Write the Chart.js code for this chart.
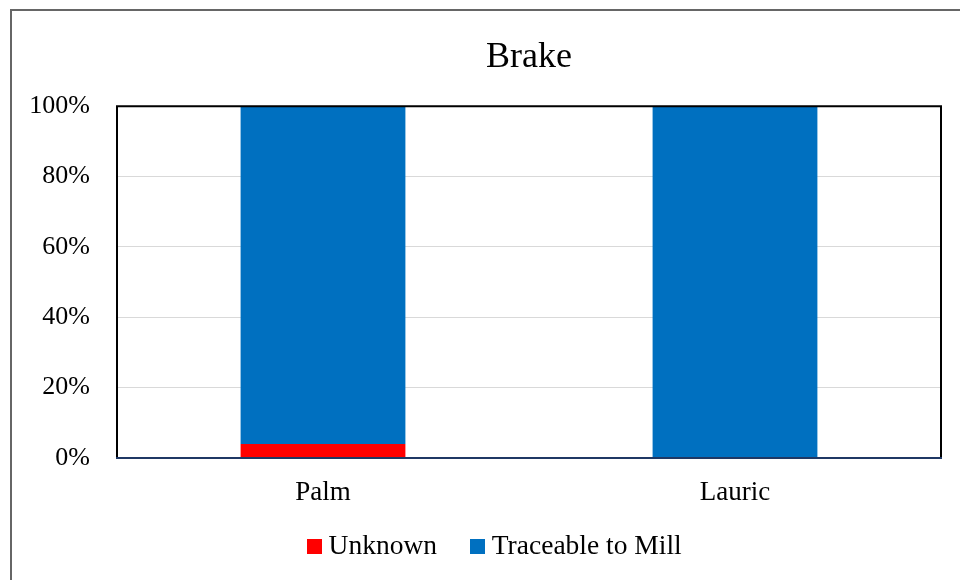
<!DOCTYPE html>
<html>
<head>
<meta charset="utf-8">
<title>Brake</title>
<script src="https://cdn.jsdelivr.net/npm/chart.js@4.4.1/dist/chart.umd.min.js"></script>
<style>
  html, body { margin: 0; padding: 0; background: #fff; }
  #wrap { position: relative; width: 960px; height: 580px; overflow: hidden; }
  #frame {
    position: absolute; left: 10px; top: 9px; width: 1200px; height: 900px;
    border: 2px solid #666; box-sizing: border-box;
  }
  #chart { position: absolute; left: 0; top: 0; }
</style>
</head>
<body>
<div id="wrap">
  <div id="frame"></div>
  <canvas id="chart" width="960" height="580"></canvas>
</div>
<script>
// Datos del gráfico
const categories = ['Palm', 'Lauric'];
const unknownValues = [4, 0];
const traceableValues = [96, 100];
const seriesNames = ['Unknown', 'Traceable to Mill'];
const seriesColors = ['#ff0000', '#0070c0'];
const yTicks = [0, 20, 40, 60, 80, 100];

const serif = '"Liberation Serif", "Times New Roman", serif';

// Cuadradito de color para la leyenda (deja el texto más pegado al cuadro)
function swatch(color) {
  const c = document.createElement('canvas');
  c.width = 15;
  c.height = 15;
  const g = c.getContext('2d');
  g.fillStyle = color;
  g.fillRect(0, 0, 15, 15);
  return c;
}
const swatches = seriesColors.map(swatch);

// Borde del área de trazado (negro arriba/lados, azul oscuro abajo)
const plotBorder = {
  id: 'plotBorder',
  afterDatasetsDraw(chart) {
    const { ctx, chartArea: a } = chart;
    ctx.save();
    ctx.strokeStyle = '#000';
    ctx.lineWidth = 2;
    ctx.beginPath();
    ctx.moveTo(a.left, a.bottom);
    ctx.lineTo(a.left, a.top);
    ctx.lineTo(a.right, a.top);
    ctx.lineTo(a.right, a.bottom);
    ctx.stroke();
    ctx.strokeStyle = '#1f3864';
    ctx.lineWidth = 2;
    ctx.beginPath();
    ctx.moveTo(a.left - 1, a.bottom);
    ctx.lineTo(a.right + 1, a.bottom);
    ctx.stroke();
    ctx.restore();
  }
};

// Mover la leyenda a su sitio
const legendPlace = {
  id: 'legendPlace',
  afterLayout(chart) {
    const lg = chart.legend;
    lg.left = 100;
    lg.right = 895.5;
    lg.top = 493;
    lg.bottom = 493 + lg.height;
  }
};

new Chart(document.getElementById('chart').getContext('2d'), {
  type: 'bar',
  data: {
    labels: categories,
    datasets: [{
      label: seriesNames[0],
      data: unknownValues,
      backgroundColor: seriesColors[0],
      borderWidth: 0
    }, {
      label: seriesNames[1],
      data: traceableValues,
      backgroundColor: seriesColors[1],
      borderWidth: 0
    }]
  },
  options: {
    responsive: false,
    devicePixelRatio: 1,
    animation: false,
    layout: { padding: { left: 0, right: 19, top: 0, bottom: 0 } },
    datasets: {
      bar: { barPercentage: 0.4, categoryPercentage: 1 }
    },
    plugins: {
      title: {
        display: true,
        text: 'Brake',
        fullSize: false,
        color: '#000',
        font: { family: serif, size: 36, weight: 'normal', lineHeight: 1.2 },
        padding: { top: 36, bottom: 27 }
      },
      legend: {
        position: 'bottom',
        maxHeight: 69,
        labels: {
          color: '#000',
          font: { family: serif, size: 27.5 },
          usePointStyle: true,
          pointStyleWidth: 1,
          boxHeight: 15,
          padding: 40,
          generateLabels(chart) {
            const items = Chart.defaults.plugins.legend.labels.generateLabels(chart);
            items.forEach((it, i) => { it.pointStyle = swatches[i]; it.lineWidth = 0; });
            return items;
          }
        }
      },
      tooltip: { enabled: false }
    },
    scales: {
      x: {
        stacked: true,
        grid: { display: false },
        border: { display: false },
        ticks: {
          color: '#000',
          font: { family: serif, size: 27 },
          padding: 11
        },
        afterFit(scale) { scale.height = 53; }
      },
      y: {
        stacked: true,
        min: 0,
        max: 100,
        afterBuildTicks(scale) { scale.ticks = yTicks.map(v => ({ value: v })); },
        grid: {
          drawTicks: false,
          color: ctx => (ctx.tick && (ctx.tick.value === 0 || ctx.tick.value === 100)) ? 'rgba(0,0,0,0)' : '#d9d9d9'
        },
        border: { display: false },
        ticks: {
          color: '#000',
          font: { family: serif, size: 26 },
          padding: 27,
          callback: v => v + '%'
        },
        afterFit(scale) { scale.width = 117; }
      }
    }
  },
  plugins: [plotBorder, legendPlace]
});
</script>
</body>
</html>
